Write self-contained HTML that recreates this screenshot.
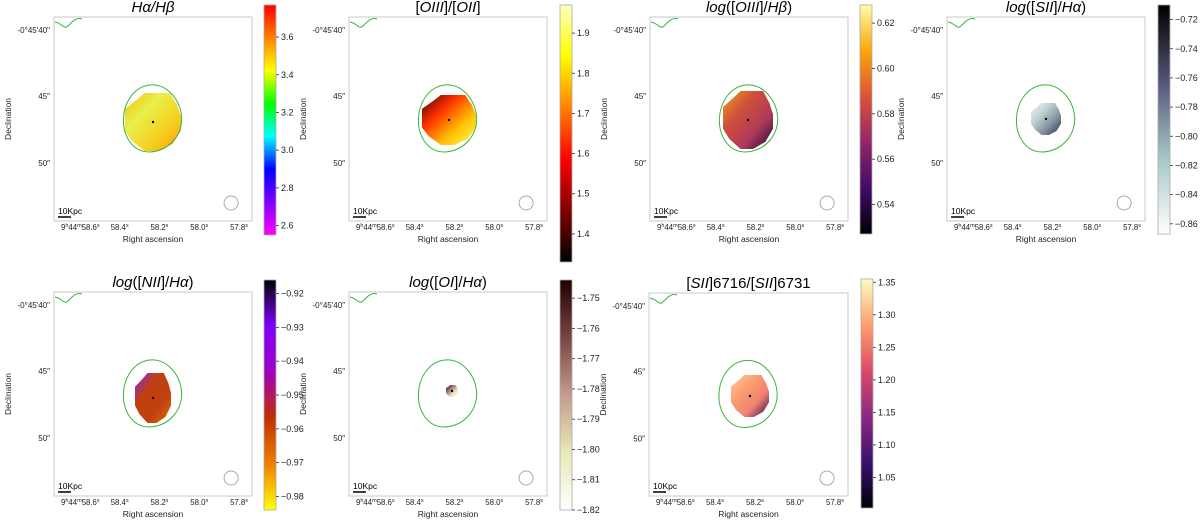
<!DOCTYPE html>
<html><head><meta charset="utf-8"><style>
body{margin:0;background:#fff;width:1200px;height:521px;overflow:hidden;font-family:"Liberation Sans",sans-serif}
svg text{font-family:"Liberation Sans",sans-serif}
</style></head><body>
<svg id="fig" width="1200" height="521" xmlns="http://www.w3.org/2000/svg"></svg>
<script>
// tick labels per colourbar
const ticksHaHb=[2.6,2.8,3.0,3.2,3.4,3.6];
const ticksOIII_OII=[1.4,1.5,1.6,1.7,1.8,1.9];
const ticksOIII_Hb=[0.54,0.56,0.58,0.60,0.62];
const ticksSII_Ha=[-0.86,-0.84,-0.82,-0.80,-0.78,-0.76,-0.74,-0.72];
const ticksNII_Ha=[-0.98,-0.97,-0.96,-0.95,-0.94,-0.93,-0.92];
const ticksOI_Ha=[-1.82,-1.81,-1.80,-1.79,-1.78,-1.77,-1.76,-1.75];
const ticksSIIratio=[1.05,1.10,1.15,1.20,1.25,1.30,1.35];
const xTickLabels=["58.4","58.2","58.0","57.8"];
const yTickLabels=["45\u2033","50\u2033"];

const NS="http://www.w3.org/2000/svg";
const svg=document.getElementById('fig');
function mk(tag,attrs,parent){const e=document.createElementNS(NS,tag);for(const k in attrs)e.setAttribute(k,attrs[k]);(parent||svg).appendChild(e);return e;}
const defs=mk('defs',{});
function grad(id,stops,vertical){const g=mk('linearGradient',vertical?{id,x1:0,y1:1,x2:0,y2:0}:{id,x1:0,y1:0,x2:1,y2:1},defs);stops.forEach((c,i)=>mk('stop',{offset:i/(stops.length-1),'stop-color':c},g));}

const panels=[
 {name:'ha-hb',title:'<tspan font-style="italic">Hα/Hβ</tspan>',ax:[54,17,198,204],cb:[264,5,12,230],ticks:ticksHaHb,dec:1,lo:2.55,hi:3.77,
  cmap:['#ff00ff','#8000ff','#0000ff','#00ffff','#00ff00','#ffff00','#ff8000','#ff0000'],blob:[153,122,28,29],bg:['#f7c100','#e6f04a','#f5d020','#ff9a10']},
 {name:'oiii-oii',title:'[<tspan font-style="italic">OIII</tspan>]/[<tspan font-style="italic">OII</tspan>]',ax:[349,17,198,204],cb:[560,5,12,257],ticks:ticksOIII_OII,dec:1,lo:1.33,hi:1.97,
  cmap:['#000000','#800000','#ff0000','#ff8000','#ffff00','#ffffc0'],blob:[449,120,27,25],bg:['#400000','#ff3000','#ffc000','#ffff60']},
 {name:'log-oiii-hb',title:'<tspan font-style="italic">log</tspan>([<tspan font-style="italic">OIII</tspan>]/<tspan font-style="italic">Hβ</tspan>)',ax:[650,17,198,204],cb:[860,5,12,229],ticks:ticksOIII_Hb,dec:2,lo:0.527,hi:0.628,
  cmap:['#000004','#420a68','#932667','#dd513a','#fca50a','#fcffa4'],blob:[748,120,25,29],bg:['#f0a020','#d0503a','#b03a5a','#200a40']},
 {name:'log-sii-ha',title:'<tspan font-style="italic">log</tspan>([<tspan font-style="italic">SII</tspan>]/<tspan font-style="italic">Hα</tspan>)',ax:[947,17,198,204],cb:[1158,5,12,229],ticks:ticksSII_Ha,dec:2,lo:-0.867,hi:-0.71,
  cmap:['#ffffff','#a6c6c6','#545478','#000000'],blob:[1046,119,15,16],bg:['#f0f4f4','#c0d4d4','#8090a0','#303040']},
 {name:'log-nii-ha',title:'<tspan font-style="italic">log</tspan>([<tspan font-style="italic">NII</tspan>]/<tspan font-style="italic">Hα</tspan>)',ax:[54,292,198,204],cb:[264,280,12,230],ticks:ticksNII_Ha,dec:2,lo:-0.984,hi:-0.916,
  cmap:['#ffff00','#f08000','#c03000','#a000c0','#8000ff','#000000'],blob:[153,398,18,25],bg:['#8020ff','#c04010','#c04010','#e07000']},
 {name:'log-oi-ha',title:'<tspan font-style="italic">log</tspan>([<tspan font-style="italic">OI</tspan>]/<tspan font-style="italic">Hα</tspan>)',ax:[349,292,198,204],cb:[560,280,12,230],ticks:ticksOI_Ha,dec:2,lo:-1.82,hi:-1.744,
  cmap:['#ffffff','#e8e8b8','#c49c8c','#7a4444','#1e0000'],blob:[452,391,6,6],bg:['#301010','#a07070','#e8e8c0','#f8f8e8']},
 {name:'sii-ratio',title:'[<tspan font-style="italic">SII</tspan>]6716/[<tspan font-style="italic">SII</tspan>]6731',ax:[649,293,199,203],cb:[861,279,12,229],ticks:ticksSIIratio,dec:2,lo:1.003,hi:1.355,
  cmap:['#000004','#3b0f70','#8c2981','#de4968','#fe9f6d','#fcfdbf'],blob:[750,396,19,21],bg:['#ffd0a0','#fba070','#f08070','#300a50']}
];

panels.forEach((p,i)=>{
  const g=mk('g',{});  
  const [x,y,w,h]=p.ax;
  const sx=w/199, sy=h/204;
  const t=mk('text',{x:x+w/2,y:y-5,'text-anchor':'middle','font-size':15,fill:'#000'},g); t.innerHTML=p.title;
   
  const fr=mk('rect',{x,y,width:w,height:h,fill:'#fff',stroke:'#c8c8c8','stroke-width':1},g);
   
  const gid='bg'+i; grad(gid,p.bg,false);
  const [bx,by,rx,ry]=p.blob;
  const b=mk('path',{d:`M${bx-rx},${by-ry*0.45} L${bx-rx*0.6},${by-ry*0.75} L${bx-rx*0.3},${by-ry} L${bx+rx*0.6},${by-ry} L${bx+rx*0.85},${by-ry*0.6} L${bx+rx},${by-ry*0.2} L${bx+rx},${by+ry*0.3} L${bx+rx*0.7},${by+ry*0.75} L${bx+rx*0.2},${by+ry} L${bx-rx*0.3},${by+ry} L${bx-rx*0.75},${by+ry*0.65} L${bx-rx},${by+ry*0.3} Z`,fill:`url(#${gid})`},g);
   
  mk('circle',{cx:bx,cy:by,r:1.2,fill:'#000'},g);
  const ccx=x+99*sx, ccy=y+104*sy;
  const c=mk('path',{d:`M${ccx-3},${ccy-36} C${ccx+15},${ccy-38} ${ccx+28},${ccy-20} ${ccx+29},${ccy-5} C${ccx+31},${ccy+12} ${ccx+18},${ccy+30} ${ccx-3},${ccy+31} C${ccx-22},${ccy+31} ${ccx-30},${ccy+12} ${ccx-29},${ccy-3} C${ccx-28},${ccy-20} ${ccx-18},${ccy-34} ${ccx-3},${ccy-36} Z`,fill:'none',stroke:'#3cb43c','stroke-width':1},g);
   
  mk('path',{d:`M${x+1},${y+5} C${x+8},${y+6} ${x+10},${y+13} ${x+14},${y+9} C${x+18},${y+5} ${x+22},${y} ${x+28},${y+2}`,fill:'none',stroke:'#3cb43c','stroke-width':1},g);
  const bm=mk('circle',{cx:x+178*sx,cy:y+186*sy,r:7,fill:'none',stroke:'#aaa','stroke-width':1},g);
   
  mk('line',{x1:x+4,y1:y+h-4,x2:x+17,y2:y+h-4,stroke:'#000','stroke-width':1.5},g);
  const sb=mk('text',{x:x+4,y:y+h-7,'font-size':8.5,fill:'#000'},g); sb.textContent='10Kpc';
   
  const f=mk('text',{x:x+7,y:y+h+9,'font-size':7.8,fill:'#222'},g); f.innerHTML='9<tspan font-size="5.5" dy="-3">h</tspan><tspan dy="3">44</tspan><tspan font-size="5.5" dy="-3">m</tspan><tspan dy="3">58.6</tspan><tspan font-size="5.5" dy="-3">s</tspan>';
   
  const xpos=[66,106,146,186];
  xTickLabels.forEach((l,k)=>{const tt=mk('text',{x:x+xpos[k]*sx,y:y+h+9,'font-size':7.8,fill:'#222','text-anchor':'middle'},g);tt.innerHTML=l+'<tspan font-size="5.5" dy="-3">s</tspan>';
     });
  const xl=mk('text',{x:x+w/2,y:y+h+21,'font-size':8.5,fill:'#222','text-anchor':'middle'},g); xl.textContent='Right ascension';
   
  const y0=mk('text',{x:x-4,y:y+16,'font-size':8,fill:'#222','text-anchor':'end'},g); y0.textContent='-0°45\'40"';
   
  [82,149].forEach((yy,k)=>{const tt=mk('text',{x:x-4,y:y+yy*sy,'font-size':8,fill:'#222','text-anchor':'end'},g);tt.textContent=yTickLabels[k];
     });
  const yl=mk('text',{x:0,y:0,'font-size':8.5,fill:'#222','text-anchor':'middle',transform:`translate(${x-43},${y+h/2}) rotate(-90)`},g); yl.textContent='Declination';
   
  const cid='cm'+i; grad(cid,p.cmap,true);
  const [cx,cy,cw,ch]=p.cb;
  const cb=mk('rect',{x:cx,y:cy,width:cw,height:ch,fill:`url(#${cid})`,stroke:'#aaa','stroke-width':0.8},g);
   
  const yv=v=>cy+ch-(v-p.lo)/(p.hi-p.lo)*ch;
  p.ticks.forEach(v=>{const yy=yv(v);
    mk('line',{x1:cx+cw,y1:yy,x2:cx+cw+3,y2:yy,stroke:'#333','stroke-width':0.8},g);
    const tt=mk('text',{x:cx+cw+5,y:yy+3,'font-size':9,fill:'#222'},g);
    tt.textContent=v.toFixed(p.dec).replace('-','\u2212');
     });
});
</script>
</body></html>
